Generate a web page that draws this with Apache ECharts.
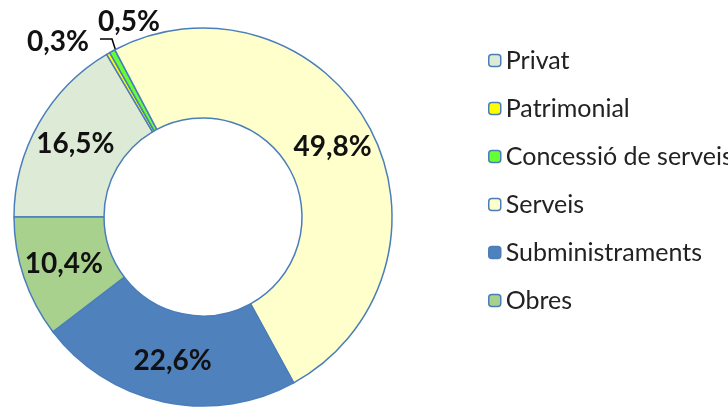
<!DOCTYPE html>
<html>
<head>
<meta charset="utf-8">
<script src="https://cdn.jsdelivr.net/npm/echarts@6/dist/echarts.min.js"></script>
<style>
  html, body { margin: 0; padding: 0; background: #fff; }
  #chart { width: 728px; height: 408px; }
</style>
</head>
<body>
<div id="chart"></div>
<script>
// data, in drawing order (clockwise)
const categories = ['Privat', 'Patrimonial', 'Concessió de serveis', 'Serveis', 'Subministraments', 'Obres']
const values = [16.5, 0.3, 0.5, 49.8, 22.6, 10.4]
const colors = ['#DDEBD6', '#FFFF00', '#66FF33', '#FFFFCC', '#4F81BD', '#A9D18E']

const fontFam = 'Lato, "Open Sans", sans-serif'

const chart = echarts.init(document.getElementById('chart'))

const rows = categories.map((name, idx) => {
  const small = values[idx] < 1
  return {
    name: name,
    value: values[idx],
    itemStyle: { color: colors[idx] },
    label: small ? { position: 'outside' } : { position: 'inside' },
    labelLine: { show: small }
  }
})

chart.setOption({
  animation: false,
  legend: {
    orient: 'vertical',
    left: 483,
    top: 43,
    itemWidth: 12,
    itemHeight: 12,
    itemGap: 23,
    data: categories,
    textStyle: {
      fontFamily: fontFam,
      fontSize: 25,
      lineHeight: 25,
      color: '#222'
    },
    itemStyle: { borderColor: '#4A7EBB', borderWidth: 1.5 }
  },
  series: [
    {
      type: 'pie',
      center: [203, 217],
      radius: [99, 189],
      startAngle: 180,
      clockwise: true,
      avoidLabelOverlap: false,
      itemStyle: {
        borderColor: '#4A7EBB',
        borderWidth: 1.5
      },
      label: {
        show: true,
        fontFamily: fontFam,
        fontSize: 28,
        fontWeight: 'bold',
        color: '#111',
        formatter: p => p.value.toFixed(1).replace('.', ',') + '%'
      },
      labelLine: {
        length: 30,
        length2: 10,
        lineStyle: { color: '#000', width: 1.5 }
      },
      labelLayout: params => {
        if (params.dataIndex === 1) {
          return {
            x: 58, y: 42, align: 'center', verticalAlign: 'middle',
            labelLinePoints: [[100, 39], [112, 39], [130, 95]]
          }
        }
        if (params.dataIndex === 2) {
          return {
            x: 129, y: 22, align: 'center', verticalAlign: 'middle',
            labelLinePoints: [[128, 47], [129, 70], [131, 96]]
          }
        }
        return {}
      },
      emphasis: { disabled: true },
      data: rows
    }
  ]
})
</script>
</body>
</html>
